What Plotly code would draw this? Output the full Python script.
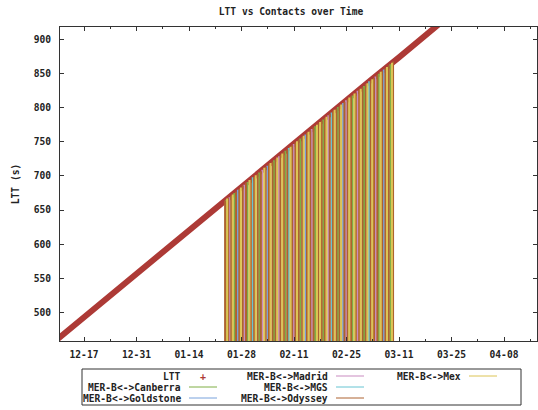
import plotly.graph_objects as go

# One-way light time between Earth and the rover, sampled weekly (seconds)
ltt_dates = [
    "2004-12-10", "2004-12-17", "2004-12-24", "2004-12-31",
    "2005-01-07", "2005-01-14", "2005-01-21", "2005-01-28",
    "2005-02-04", "2005-02-11", "2005-02-18", "2005-02-25",
    "2005-03-04", "2005-03-11", "2005-03-18", "2005-03-25",
]
ltt_seconds = [461, 493, 525, 557, 588, 620, 652, 684,
               716, 747, 779, 811, 843, 874, 906, 938]

# Communication passes: start time, partner and light time at that moment
contact_times = [
    "2005-01-23 15:00", "2005-01-23 21:00", "2005-01-24 04:00", "2005-01-24 11:00",
    "2005-01-24 19:00", "2005-01-25 06:00", "2005-01-25 16:00", "2005-01-26 02:00",
    "2005-01-26 13:00", "2005-01-27 01:00", "2005-01-27 10:00", "2005-01-27 20:00",
    "2005-01-28 08:00", "2005-01-28 18:00", "2005-01-29 05:00", "2005-01-29 15:00",
    "2005-01-30 03:00", "2005-01-30 12:00", "2005-01-31 00:00", "2005-01-31 09:00",
    "2005-01-31 19:00", "2005-02-01 07:00", "2005-02-01 17:00", "2005-02-02 04:00",
    "2005-02-02 14:00", "2005-02-03 02:00", "2005-02-03 11:00", "2005-02-03 22:00",
    "2005-02-04 08:00", "2005-02-04 18:00", "2005-02-05 06:00", "2005-02-05 16:00",
    "2005-02-06 03:00", "2005-02-06 13:00", "2005-02-07 00:00", "2005-02-07 10:00",
    "2005-02-07 21:00", "2005-02-08 07:00", "2005-02-08 17:00", "2005-02-09 05:00",
    "2005-02-09 15:00", "2005-02-10 02:00", "2005-02-10 12:00", "2005-02-10 23:00",
    "2005-02-11 09:00", "2005-02-11 19:00", "2005-02-12 06:00", "2005-02-12 16:00",
    "2005-02-13 04:00", "2005-02-13 14:00", "2005-02-14 01:00", "2005-02-14 11:00",
    "2005-02-14 21:00", "2005-02-15 08:00", "2005-02-15 18:00", "2005-02-16 05:00",
    "2005-02-16 15:00", "2005-02-17 03:00", "2005-02-17 12:00", "2005-02-17 23:00",
    "2005-02-18 09:00", "2005-02-18 19:00", "2005-02-19 06:00", "2005-02-19 16:00",
    "2005-02-20 04:00", "2005-02-20 13:00", "2005-02-21 01:00", "2005-02-21 10:00",
    "2005-02-21 20:00", "2005-02-22 07:00", "2005-02-22 17:00", "2005-02-23 04:00",
    "2005-02-23 14:00", "2005-02-24 02:00", "2005-02-24 11:00", "2005-02-24 21:00",
    "2005-02-25 08:00", "2005-02-25 18:00", "2005-02-26 05:00", "2005-02-26 15:00",
    "2005-02-27 03:00", "2005-02-27 12:00", "2005-02-27 23:00", "2005-02-28 09:00",
    "2005-02-28 19:00", "2005-03-01 06:00", "2005-03-01 16:00", "2005-03-02 04:00",
    "2005-03-02 14:00", "2005-03-03 01:00", "2005-03-03 11:00", "2005-03-03 21:00",
    "2005-03-04 08:00", "2005-03-04 18:00", "2005-03-05 05:00", "2005-03-05 15:00",
    "2005-03-06 03:00", "2005-03-06 12:00", "2005-03-06 23:00", "2005-03-07 09:00",
    "2005-03-07 19:00", "2005-03-08 06:00", "2005-03-08 16:00", "2005-03-09 03:00",
    "2005-03-09 10:00",
]
contact_stations = [
    "ODY", "CAN", "MEX", "ODY", "MAD", "ODY", "MEX", "CAN",
    "ODY", "GDS", "ODY", "MEX", "ODY", "MAD", "ODY", "CAN",
    "MEX", "ODY", "MGS", "ODY", "MEX", "ODY", "CAN", "ODY",
    "MAD", "MEX", "ODY", "GDS", "ODY", "MEX", "ODY", "CAN",
    "ODY", "MEX", "MAD", "ODY", "MEX", "ODY", "CAN", "ODY",
    "MGS", "MEX", "ODY", "MAD", "ODY", "MEX", "ODY", "CAN",
    "ODY", "MEX", "GDS", "ODY", "MEX", "ODY", "MAD", "ODY",
    "CAN", "MEX", "ODY", "MEX", "ODY", "CAN", "ODY", "MEX",
    "MAD", "ODY", "MGS", "ODY", "MEX", "ODY", "CAN", "ODY",
    "MEX", "GDS", "ODY", "MAD", "ODY", "MEX", "ODY", "CAN",
    "MEX", "ODY", "MAD", "ODY", "MEX", "ODY", "CAN", "ODY",
    "MEX", "MGS", "ODY", "MEX", "ODY", "MAD", "ODY", "CAN",
    "MEX", "ODY", "GDS", "ODY", "MEX", "ODY", "CAN", "MEX",
    "ODY",
]
contact_ltt = [
    664, 665, 667, 668, 669, 671, 673, 675,
    677, 680, 681, 683, 686, 687, 690, 691,
    694, 695, 698, 699, 701, 703, 705, 707,
    709, 712, 713, 715, 717, 719, 721, 723,
    725, 727, 729, 731, 733, 735, 737, 739,
    741, 743, 745, 747, 749, 751, 753, 755,
    757, 759, 761, 763, 765, 767, 769, 771,
    773, 775, 777, 779, 781, 783, 785, 787,
    789, 791, 793, 795, 797, 799, 801, 803,
    805, 807, 809, 811, 813, 815, 817, 818,
    821, 822, 825, 826, 828, 830, 832, 835,
    836, 839, 840, 842, 844, 846, 848, 850,
    853, 854, 856, 858, 860, 862, 864, 866,
    868,
]

# Series in plotting order (key fills column by column)
station_codes = ["CAN", "GDS", "MAD", "MGS", "ODY", "MEX"]
station_labels = [
    "MER-B&lt;-&gt;Canberra", "MER-B&lt;-&gt;Goldstone", "MER-B&lt;-&gt;Madrid",
    "MER-B&lt;-&gt;MGS", "MER-B&lt;-&gt;Odyssey", "MER-B&lt;-&gt;Mex",
]
station_colors = ["#7fae45", "#78a2dc", "#c98bc0", "#66c4d2", "#ad6330", "#dcc454"]
LTT_COLOR = "#ad3a36"

FONT = dict(family="DejaVu Sans Mono", size=9.6, color="#222222", weight="bold")
W, H = 538, 410
ML, MR, MT, MB = 60, 1, 27, 69
PW, PH = W - ML - MR, H - MT - MB


def px(x):
    return (x - ML) / PW


def py(y):
    return (H - MB - y) / PH


def bold(s):
    return "<b>" + s + "</b>"


fig = go.Figure()

fig.add_trace(go.Scatter(
    x=ltt_dates, y=ltt_seconds, mode="lines", name="LTT",
    line=dict(color=LTT_COLOR, width=6), showlegend=False,
))

# Each pass drawn as an impulse from zero up to the light time
for code, label, color in zip(station_codes, station_labels, station_colors):
    xs, ys = [], []
    for t, s, v in zip(contact_times, contact_stations, contact_ltt):
        if s == code:
            xs += [t, t, None]
            ys += [0, v, None]
    fig.add_trace(go.Scatter(
        x=xs, y=ys, mode="lines", name=label,
        line=dict(color=color, width=2), showlegend=False,
    ))

# Key: text right-aligned, sample to its right, three columns
key_text_right = [183, 330, 463]
key_rows = [376, 387, 398]
key_entries = [("LTT", LTT_COLOR, "+")] + [
    (lab, col, "line") for lab, col in zip(station_labels, station_colors)
]
annotations, shapes = [], []
for i, (lab, col, kind) in enumerate(key_entries):
    xr = key_text_right[i // 3]
    yr = key_rows[i % 3]
    annotations.append(dict(
        text=bold(lab), x=px(xr), y=py(yr), xref="paper", yref="paper",
        xanchor="right", yanchor="middle", showarrow=False, font=FONT,
    ))
    if kind == "+":
        annotations.append(dict(
            text="+", x=px(xr + 20), y=py(yr), xref="paper", yref="paper",
            xanchor="center", yanchor="middle", showarrow=False,
            font=dict(family="DejaVu Sans Mono", size=10, color=col),
        ))
    else:
        shapes.append(dict(
            type="line", xref="paper", yref="paper",
            x0=px(xr + 6), x1=px(xr + 34), y0=py(yr), y1=py(yr),
            line=dict(color=col, width=1),
        ))
shapes.append(dict(
    type="rect", xref="paper", yref="paper",
    x0=px(82), x1=px(521), y0=py(405), y1=py(369),
    line=dict(color="#333333", width=1), fillcolor="rgba(0,0,0,0)",
))

DAY_MS = 86400000
fig.update_layout(
    width=W, height=H,
    margin=dict(l=ML, r=MR, t=MT, b=MB, pad=0),
    paper_bgcolor="white", plot_bgcolor="white",
    font=FONT,
    showlegend=False,
    title=dict(
        text=bold("LTT vs Contacts over Time"), font=FONT,
        x=291 / W, xref="container", xanchor="center",
        y=1 - 12 / H, yref="container", yanchor="middle",
    ),
    xaxis=dict(
        type="date",
        range=["2004-12-10 14:24", "2005-04-16 19:12"],
        tick0="2004-12-17", dtick=14 * DAY_MS, tickformat="%m-%d",
        ticks="inside", ticklen=4, tickcolor="#333333",
        minor=dict(dtick=7 * DAY_MS, tick0="2004-12-17", ticks="inside",
                   ticklen=2, tickcolor="#333333"),
        showline=True, linecolor="#333333", linewidth=1, mirror="ticks",
        showgrid=False, zeroline=False, ticklabelstandoff=4,
        tickfont=FONT,
    ),
    yaxis=dict(
        range=[458, 918.5], tick0=0, dtick=50,
        ticks="inside", ticklen=4, tickcolor="#333333",
        showline=True, linecolor="#333333", linewidth=1, mirror="ticks",
        showgrid=False, zeroline=False, ticklabelstandoff=6,
        tickfont=FONT,
        title=dict(text=bold("LTT (s)"), font=FONT, standoff=12),
    ),
    annotations=annotations,
    shapes=shapes,
)

fig.write_html("out.html")
